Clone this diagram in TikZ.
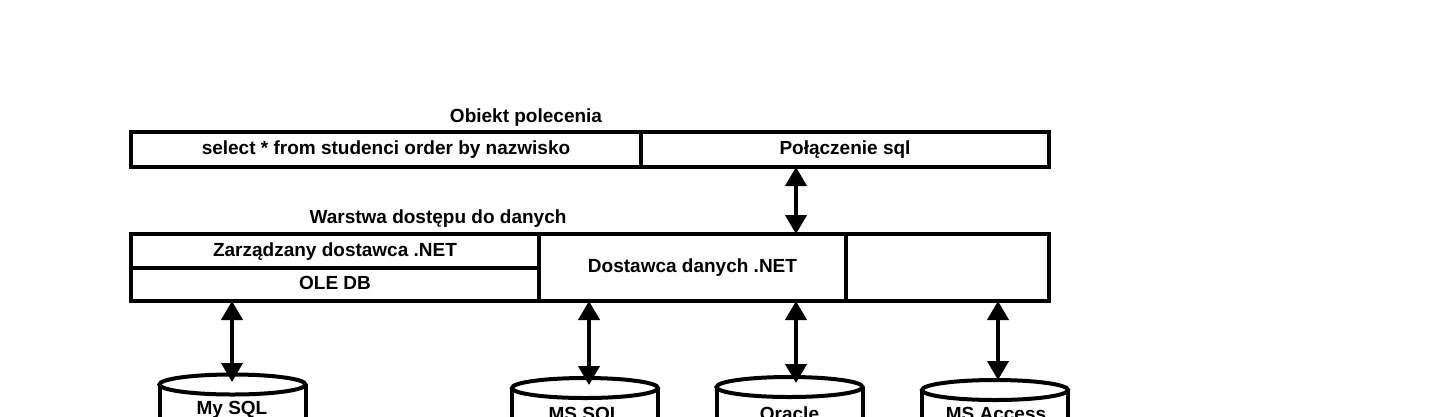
\documentclass[tikz,border=0pt]{standalone}
\usepackage{fontspec}
\setmainfont{Liberation Sans}
\usetikzlibrary{arrows.meta,shapes.geometric}
\begin{document}
\begin{tikzpicture}[x=1pt,y=-1pt,
  txt/.style={font=\fontsize{19}{22}\selectfont\bfseries},
  cell/.style={txt, draw, line width=4pt, inner sep=0pt, outer sep=0pt, text height=14pt, text depth=4pt, anchor=center},
  title/.style={txt, inner sep=0pt, anchor=base},
  link/.style={line width=4pt, {Triangle[width=21pt,length=19pt]}-{Triangle[width=21pt,length=19pt]}},
  dbtop/.style={draw, line width=4pt, ellipse, inner sep=0pt, outer sep=0pt, minimum width=146pt, minimum height=20pt},
  dbside/.style={line width=4pt},
  dblabel/.style={txt, inner sep=0pt, anchor=base}]
\useasboundingbox (0,0) rectangle (1429,416);
\clip (0,0) rectangle (1429,416);
\fill[white] (0,0) rectangle (1429,416);

% titles
\node[title] (t1) at (526,122) {Obiekt polecenia};
\node[title] (t2) at (438,223) {Warstwa dostępu do danych};

% command object
\node[cell, minimum width=510pt, minimum height=35pt] (cmd) at (386,149.5) {select * from studenci order by nazwisko};
\node[cell, minimum width=408pt, minimum height=35pt] (conn) at (845,149.5) {Połączenie sql};

% data access layer
\node[cell, minimum width=408pt, minimum height=34pt] (zarz) at (335,251) {Zarządzany dostawca .NET};
\node[cell, minimum width=408pt, minimum height=33pt] (ole) at (335,284.5) {OLE DB};
\node[cell, minimum width=307pt, minimum height=67pt] (dost) at (692.5,267.5) {Dostawca danych .NET};
\node[cell, minimum width=203pt, minimum height=67pt] (empty) at (947.5,267.5) {};

% databases
\node[dbtop] (mysql) at (232.5,384.5) {};
\node[dbtop] (mssql) at (585,388) {};
\node[dbtop] (oracle) at (789.5,387) {};
\node[dbtop] (access) at (995,390) {};
\foreach \d in {mysql,mssql,oracle,access}{
  \draw[dbside] (\d.west) -- ++(0,60);
  \draw[dbside] (\d.east) -- ++(0,60);
}
\node[dblabel] (l1) at (232,414.5) {My SQL};
\node[dblabel] (l2) at (585,420.5) {MS SQL};
\node[dblabel] (l3) at (789.5,420.5) {Oracle};
\node[dblabel] (l4) at (996,420.5) {MS Access};

% connector columns
\coordinate (c0) at (796,0);
\coordinate (c1) at (232,382);
\coordinate (c2) at (589,385);
\coordinate (c3) at (796,383);
\coordinate (c4) at (998,380);

\draw[link] (conn.south -| c0) -- (dost.north -| c0);
\draw[link] (ole.south -| c1) -- (c1);
\draw[link] (dost.south -| c2) -- (c2);
\draw[link] (dost.south -| c3) -- (c3);
\draw[link] (empty.south -| c4) -- (c4);
\end{tikzpicture}
\end{document}
